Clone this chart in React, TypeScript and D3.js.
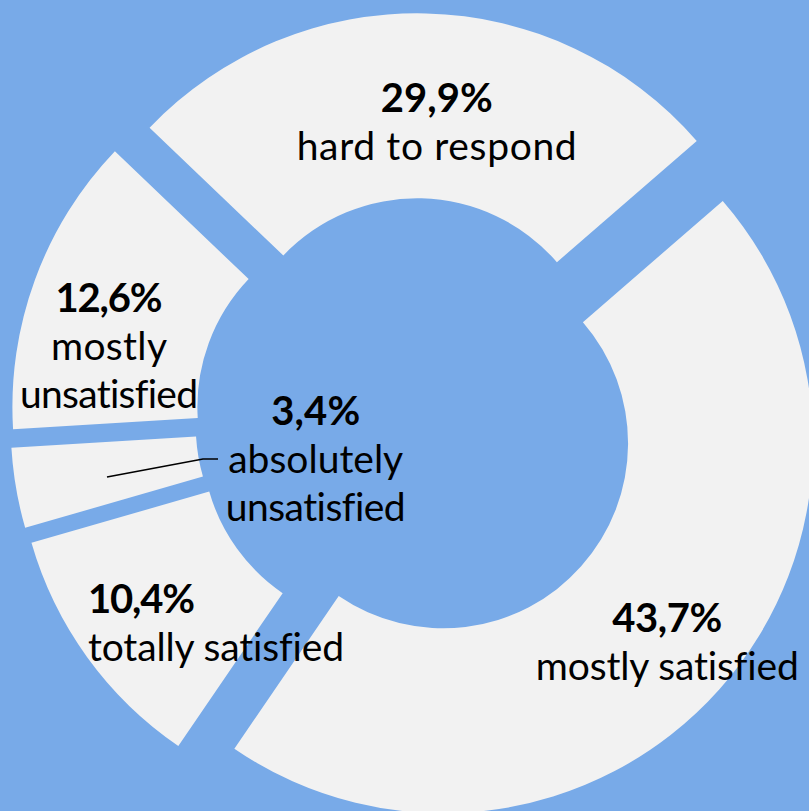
import React from 'react';
import * as d3 from 'd3';

// Categories (clockwise from the top slice)
const categories = ['hard to respond', 'mostly satisfied', 'totally satisfied', 'absolutely unsatisfied', 'mostly unsatisfied'];
const sliceValues = [26.5, 45.9, 11.0, 3.5, 13.1];
// Printed percentage labels
const percentLabels = ['29,9%', '43,7%', '10,4%', '3,4%', '12,6%'];
// Printed category label lines
const nameLines = [['hard to respond'], ['mostly satisfied'], ['totally satisfied'], ['absolutely', 'unsatisfied'], ['mostly', 'unsatisfied']];

const W = 809;
const H = 811;
const BG = '#78AAE8';
const SLICE = '#F2F2F2';
const CX = 416.2;
const CY = 419.3;
const R_OUT = 370;
const R_IN = 185;
const EXPLODE = 36;
const START_DEG = -46.3;
const FONT = 'Lato, "Open Sans", sans-serif';
const FS = 39;
const LINE = 48;

// label layout: x, baseline of first line, anchor, fitted widths (percent line, then name lines)
const labelLayout = [
  { x: 436.7, y: 111.7, anchor: 'middle', widths: [112, 280] },
  { x: 667.3, y: 631.7, anchor: 'middle', widths: [110, 263] },
  { x: 88, y: 613.3, anchor: 'start', widths: [107, 256] },
  { x: 315.7, y: 425, anchor: 'middle', widths: [89, 175, 180] },
  { x: 109, y: 311.7, anchor: 'middle', widths: [107, 116, 178] },
];

const textStyle: React.CSSProperties = {
  fontVariantLigatures: 'none',
  fontFeatureSettings: '"liga" 0, "clig" 0',
};

export default function App() {
  const start = (START_DEG * Math.PI) / 180;
  const pie = d3
    .pie<number>()
    .sort(null)
    .value((d) => d)
    .startAngle(start)
    .endAngle(start + 2 * Math.PI);
  const arcs = pie(sliceValues);
  const arc = d3.arc<d3.PieArcDatum<number>>().innerRadius(R_IN).outerRadius(R_OUT);

  const leader = d3.line()([
    [107, 477],
    [203, 459],
    [218, 459],
  ]);

  return (
    <svg
      width={W}
      height={H}
      style={{ position: 'absolute', left: 0, top: 0, display: 'block' }}
      fontFamily={FONT}
    >
      <rect x={0} y={0} width={W} height={H} fill={BG} />
      {arcs.map((a, i) => {
        const mid = (a.startAngle + a.endAngle) / 2;
        const dx = EXPLODE * Math.sin(mid);
        const dy = -EXPLODE * Math.cos(mid);
        return (
          <path
            key={categories[i]}
            d={arc(a) || ''}
            transform={`translate(${CX + dx},${CY + dy})`}
            fill={SLICE}
          />
        );
      })}
      <path d={leader || ''} fill="none" stroke="#000" strokeWidth={1.6} />
      {labelLayout.map((l, i) => (
        <g key={'lab' + i}>
          <text
            x={l.x}
            y={l.y}
            textAnchor={l.anchor as any}
            fontSize={FS + 1}
            fontWeight={700}
            fill="#000"
            textLength={l.widths[0]}
            lengthAdjust="spacing"
            style={textStyle}
          >
            {percentLabels[i]}
          </text>
          {nameLines[i].map((t, j) => (
            <text
              key={j}
              x={l.x}
              y={l.y + LINE * (j + 1)}
              textAnchor={l.anchor as any}
              fontSize={FS}
              fill="#000"
              textLength={l.widths[j + 1]}
              lengthAdjust="spacing"
              style={textStyle}
            >
              {t}
            </text>
          ))}
        </g>
      ))}
    </svg>
  );
}
